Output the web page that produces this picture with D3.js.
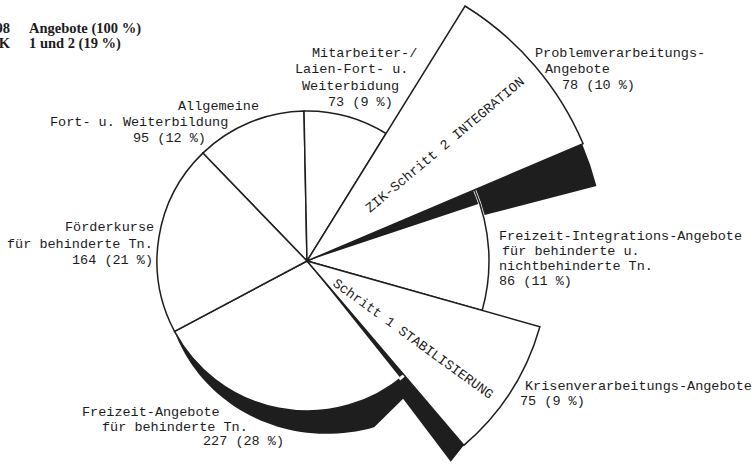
<!DOCTYPE html>
<html>
<head>
<meta charset="utf-8">
<script src="https://cdn.jsdelivr.net/npm/d3@7"></script>
<style>
  body { margin: 0; background: #fff; }
  svg { display: block; }
  .lbl { font-family: "Liberation Mono", "DejaVu Sans Mono", monospace; font-size: 13.5px; fill: #1c1c1c; }
  .head { font-family: "Liberation Serif", serif; font-weight: bold; font-size: 14.5px; fill: #1c1c1c; }
</style>
</head>
<body>
<div id="chart"></div>
<script>
// Angebote nach Bereichen (im Uhrzeigersinn ab "Allgemeine ...")
var categories = [
    ["Allgemeine", "Fort- u. Weiterbildung"],
    ["Mitarbeiter-/", "Laien-Fort- u.", "Weiterbidung"],
    ["Problemverarbeitungs-", "Angebote"],
    ["Freizeit-Integrations-Angebote", "für behinderte u.", "nichtbehinderte Tn."],
    ["Krisenverarbeitungs-Angebote"],
    ["Freizeit-Angebote", "für behinderte Tn."],
    ["Förderkurse", "für behinderte Tn."]
];
var counts   = [95, 73, 78, 86, 75, 227, 164];
var percents = [12, 9, 10, 11, 9, 28, 21];
// ZIK-Schritte (hervorgehobene Segmente)
var stepSlice = [2, 4];
var stepLabels = ["ZIK-Schritt 2 INTEGRATION", "Schritt 1 STABILISIERUNG"];
var headLeft  = ["798", "ZIK"];
var headRight = ["Angebote (100 %)", "1 und 2 (19 %)"];

// ---- layout ----
var width = 754, height = 465;
var cx = 307, cy = 261;
var radii = [150, 150, 300, 182, 242, 150, 150];   // Radius je Segment
var labelPos = [
    {x: [178, 50, 133], y: 110, lh: 16},
    {x: [312, 295, 302, 328], y: 57, lh: 16.3},
    {x: [535, 545, 562], y: 57, lh: 16},
    {x: [499, 502, 499, 499], y: 240, lh: 15},
    {x: [525, 520], y: 390, lh: 15},
    {x: [82, 102, 203], y: 416, lh: 14.5},
    {x: [65, 7, 72], y: 231, lh: 16.5}
];
var stepPos = [
    {x: 370, y: 213, rot: -40},
    {x: 332, y: 285, rot: 36}
];
var ink = "#1e1e1e";
var rad = Math.PI / 180;

var svg = d3.select("#chart").append("svg")
    .attr("width", width)
    .attr("height", height);

var pie = d3.pie().sort(null).value(function(d){ return d; })
    .startAngle(-44 * rad).endAngle(316 * rad);
var slices = pie(counts);

var arc = d3.arc().innerRadius(0).outerRadius(function(d){ return radii[d.index]; });
var wedge = d3.arc();

// Punkt auf Strahl (Winkel in Grad, im Uhrzeigersinn ab 12 Uhr)
function P(deg, r) {
    return [cx + r * Math.sin(deg * rad), cy - r * Math.cos(deg * rad)];
}

var g = svg.append("g").attr("transform", "translate(" + cx + "," + cy + ")");

function drawSlice(d) {
    g.append("path")
        .attr("d", arc(d))
        .attr("fill", "#fff")
        .attr("stroke", ink)
        .attr("stroke-width", 1.5)
        .attr("stroke-linejoin", "miter");
}

// flache Segmente zuerst
slices.forEach(function(d){
    if (stepSlice.indexOf(d.index) < 0) drawSlice(d);
});

// Schatten Krisen-Segment + Rand der Freizeit-Angebote
var kEnd = slices[4].endAngle / rad;
var fEnd = slices[5].endAngle / rad;
g.append("path")
    .attr("d", wedge({innerRadius: 0, outerRadius: 148.5, startAngle: kEnd * rad, endAngle: (kEnd + 1.8) * rad}))
    .attr("fill", ink);
var rim = [P(kEnd, 151.5), P(kEnd, 242), P(kEnd + 4.8, 247), P(kEnd + 5.5, 168)];
d3.range(kEnd + 18.4, fEnd, 2).forEach(function(a){
    rim.push(P(a, 150 + 0.35 * (fEnd - a)));
});
rim.push(P(fEnd, 150));
d3.range(fEnd, kEnd + 1.5, -2).forEach(function(a){ rim.push(P(a, 150)); });
rim.push(P(kEnd + 1.5, 150));
g.append("path")
    .attr("d", d3.line()(rim.map(function(p){ return [p[0] - cx, p[1] - cy]; })) + "Z")
    .attr("fill", ink);
g.append("path")
    .attr("d", wedge({innerRadius: 149, outerRadius: 151.5, startAngle: (kEnd - 0.6) * rad, endAngle: (kEnd + 2.4) * rad}))
    .attr("fill", "#fff");
drawSlice(slices[4]);

// Schatten Problemverarbeitungs-Segment
var pEnd = slices[2].endAngle / rad;
g.append("path")
    .attr("d", wedge({innerRadius: 0, outerRadius: 180.5, startAngle: pEnd * rad, endAngle: (pEnd + 4.6) * rad}))
    .attr("fill", ink);
g.append("path")
    .attr("d", wedge({innerRadius: 183.5, outerRadius: 299, startAngle: pEnd * rad, endAngle: (pEnd + 8.5) * rad}))
    .attr("fill", ink);
drawSlice(slices[2]);

// Beschriftung
categories.forEach(function(lines, i){
    var all = lines.concat([counts[i] + " (" + percents[i] + " %)"]);
    var lp = labelPos[i];
    all.forEach(function(t, j){
        svg.append("text")
            .attr("class", "lbl")
            .attr("x", lp.x[j])
            .attr("y", lp.y + j * lp.lh)
            .text(t);
    });
});

stepLabels.forEach(function(t, i){
    var sp = stepPos[i];
    svg.append("text")
        .attr("class", "lbl")
        .attr("transform", "translate(" + sp.x + "," + sp.y + ") rotate(" + sp.rot + ")")
        .text(t);
});

headLeft.forEach(function(t, i){
    svg.append("text").attr("class", "head")
        .attr("x", 10).attr("y", 33 + i * 15)
        .attr("text-anchor", "end").text(t);
    svg.append("text").attr("class", "head")
        .attr("x", 29).attr("y", 33 + i * 15)
        .text(headRight[i]);
});
</script>
</body>
</html>
